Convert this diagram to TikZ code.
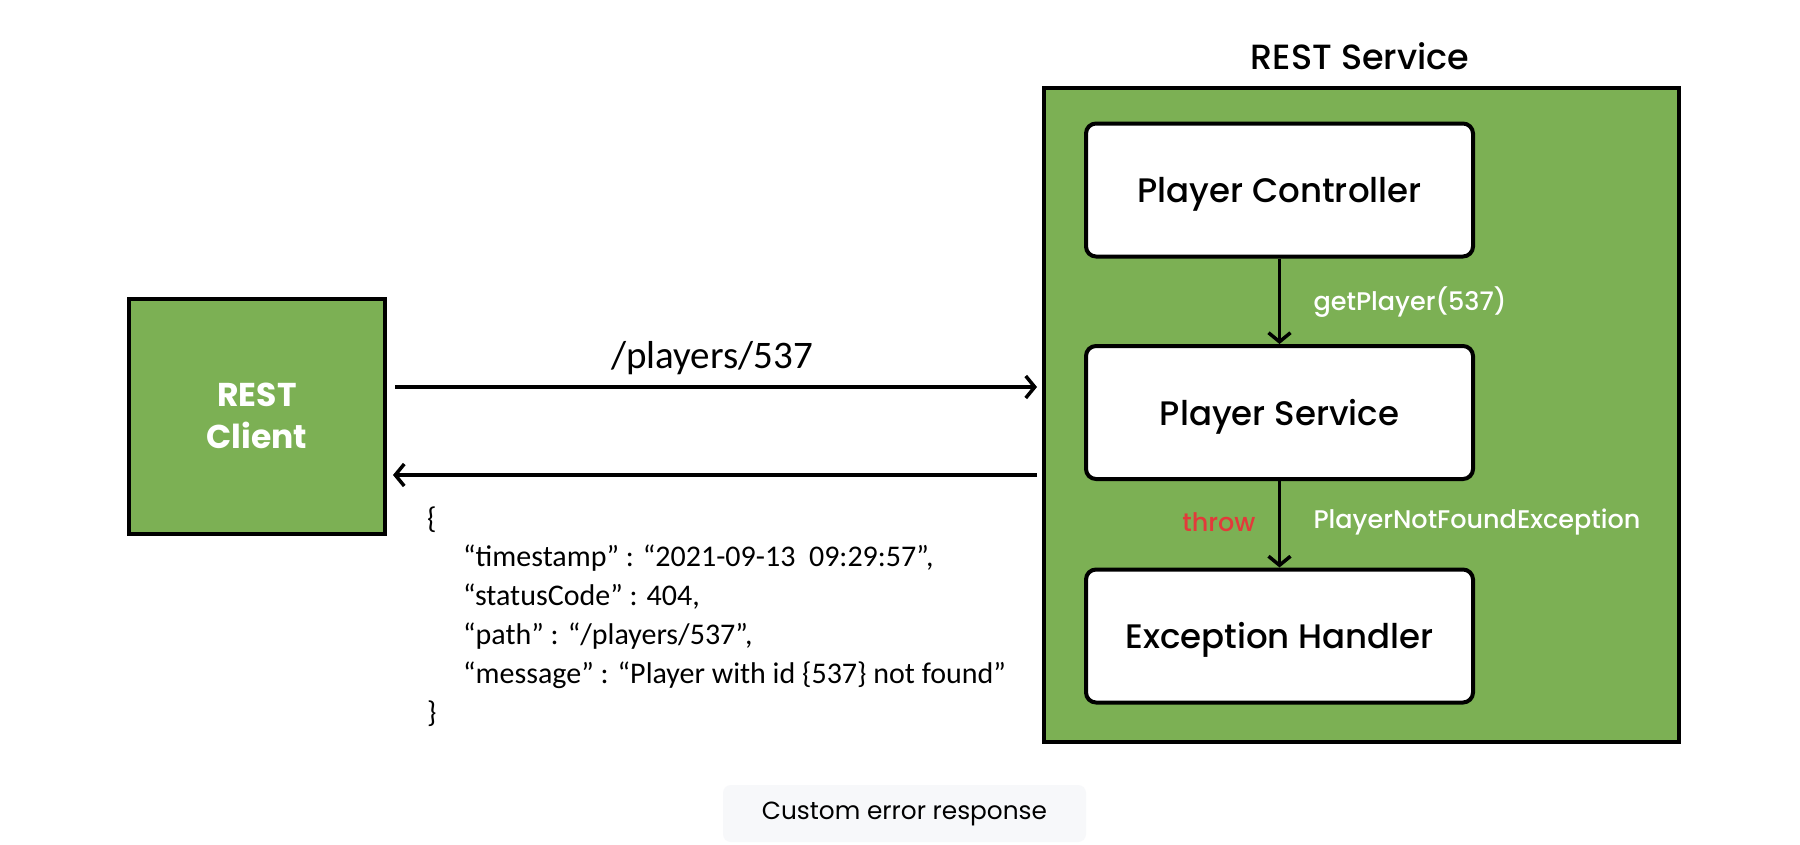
\documentclass[tikz,border=0pt]{standalone}
\usepackage{fontspec}
\setmainfont{Poppins}
\newfontfamily\calfont{Carlito}
\IfFontExistsTF{Poppins Medium}{\newfontfamily\medfont{Poppins Medium}}{\newfontfamily\medfont{Poppins}}
\usetikzlibrary{arrows.meta}
\definecolor{grn}{HTML}{7CB054}
\definecolor{thr}{HTML}{E23A3A}
\definecolor{capbg}{HTML}{F7F8FA}
\begin{document}
\begin{tikzpicture}[x=1pt,y=-1pt,
  arr/.style={line width=3.5pt,-{Straight Barb[length=9pt,width=22pt]}},
  comp/.style={draw, line width=4pt, fill=white, rounded corners=10pt,
    minimum width=387pt, minimum height=133pt, text height=33pt, text depth=8pt,
    font=\medfont\fontsize{34}{40}\selectfont},
  flowlbl/.style={text=white, font=\medfont\fontsize{25.5}{30}\selectfont}]
\useasboundingbox (0,0) rectangle (1800,844);
\fill[white] (0,0) rectangle (1800,844);

\node[draw, line width=4pt, fill=grn, minimum width=256pt, minimum height=235pt,
  text=white, font=\bfseries\fontsize{33}{42}\selectfont, align=center] (client) at (257,416) {REST\\Client};

\node[draw, line width=4pt, fill=grn, minimum width=635pt, minimum height=654pt] (svc) at (1361.5,415) {};
\node[font=\medfont\fontsize{35}{40}\selectfont] (svctitle) at (1360,56) {REST Service};

\node[comp] (ctrl) at (1279.5,190) {Player Controller};
\node[comp] (psvc) at (1279.5,412.5) {Player Service};
\node[comp] (exh) at (1279.5,636) {Exception Handler};

\draw[arr] (ctrl.south) -- (psvc.north);
\draw[arr] (psvc.south) -- (exh.north);

\node[flowlbl, anchor=west] (getlbl) at (1310,302) {getPlayer(537)};
\node[flowlbl, anchor=west] (exclbl) at (1310,522) {PlayerNotFoundException};
\node[flowlbl, text=thr, anchor=east] (throwlbl) at (1259,522) {throw};

\coordinate (req) at (700,387);
\coordinate (resp) at (700,475);
\draw[arr, shorten <=8pt, shorten >=5pt] (client.east |- req) -- (svc.west |- req);
\draw[arr, shorten <=5pt, shorten >=6pt] (svc.west |- resp) -- (client.east |- resp);
\node[font=\calfont\fontsize{39}{44}\selectfont] (reqlbl) at (712,358) {/players/537};

\node[anchor=base west, align=left, inner sep=0pt,
  font=\calfont\fontsize{30}{38.8}\selectfont] (json) at (427,722)
  {\{\\
   \hspace*{36pt}“timestamp” : “2021-09-13\ \ 09:29:57”,\\
   \hspace*{36pt}“statusCode” : 404,\\
   \hspace*{36pt}“path” : “/players/537”,\\
   \hspace*{36pt}“message” : “Player with id \{537\} not found”\\
   \}};

\node[fill=capbg, rounded corners=8pt, minimum width=363pt, minimum height=57pt,
  font=\fontsize{24.8}{28}\selectfont] (cap) at (904.5,813.5) {\raisebox{-3pt}{Custom error response}};
\end{tikzpicture}
\end{document}
